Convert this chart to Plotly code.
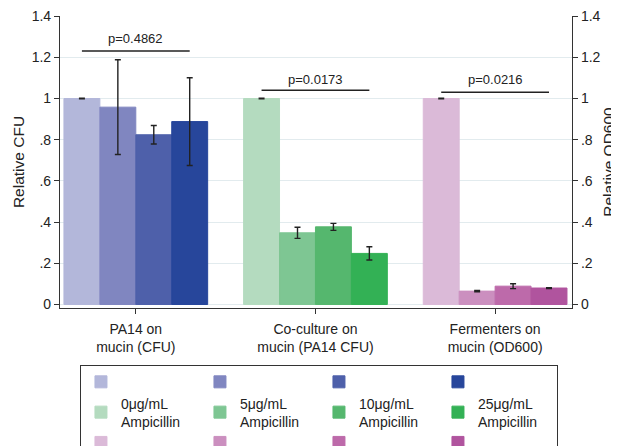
import plotly.graph_objects as go

categories = ["PA14 on<br>mucin (CFU)", "Co-culture on<br>mucin (PA14 CFU)", "Fermenters on<br>mucin (OD600)"]
doses = ["0μg/mL<br>Ampicillin", "5μg/mL<br>Ampicillin", "10μg/mL<br>Ampicillin", "25μg/mL<br>Ampicillin"]

pa14_values = [1.0, 0.958, 0.824, 0.888]
pa14_errors = [0.002, 0.23, 0.045, 0.213]
coculture_values = [1.0, 0.348, 0.377, 0.248]
coculture_errors = [0.002, 0.027, 0.017, 0.032]
fermenter_values = [1.0, 0.065, 0.089, 0.080]
fermenter_errors = [0.002, 0.003, 0.012, 0.002]

p_values = ["p=0.4862", "p=0.0173", "p=0.0216"]
bracket_y = [1.23, 1.04, 1.03]
p_label_y = [1.293, 1.093, 1.093]

y_tickvals = [0, 0.2, 0.4, 0.6, 0.8, 1.0, 1.2, 1.4]
y_ticktext = ["0", ".2", ".4", ".6", ".8", "1", "1.2", "1.4"]

blue = ["#b3b7da", "#8086c0", "#4e60aa", "#27469b"]
green = ["#b4dbbf", "#7ec693", "#55b76e", "#33b155"]
pink = ["#dbbad8", "#cb8fbf", "#bd6aaa", "#b0549e"]

values = [pa14_values, coculture_values, fermenter_values]
errors = [pa14_errors, coculture_errors, fermenter_errors]
palettes = [blue, green, pink]

FONT = "Liberation Sans, Arial, sans-serif"
# the page body has an 8px default margin; margins below compensate for it
PAGE_OFFSET = 8

fig = go.Figure()

for g in range(3):
    for i in range(4):
        fig.add_trace(go.Bar(
            x=[categories[g]],
            y=[values[g][i]],
            error_y=dict(type="data", array=[errors[g][i]], color="#222222",
                         thickness=1.4, width=3),
            offsetgroup=str(i),
            marker=dict(color=palettes[g][i], line=dict(color=palettes[g][i], width=1)),
            name=doses[i] if g == 1 else " ",
            yaxis="y2" if g == 2 else "y",
            showlegend=True,
        ))

shapes = []
annotations = []
for g in range(3):
    shapes.append(dict(type="line", xref="x", yref="y", x0=g - 0.3, x1=g + 0.3,
                       y0=bracket_y[g], y1=bracket_y[g], line=dict(color="#222222", width=1.5)))
    annotations.append(dict(x=g, y=p_label_y[g], xref="x", yref="y", text=p_values[g],
                            showarrow=False, font=dict(size=13, color="#222222", family=FONT)))

axis_common = dict(
    range=[-0.017, 1.4005],
    tickvals=y_tickvals, ticktext=y_ticktext,
    ticks="outside", ticklen=5, tickcolor="#333333", tickwidth=1.2,
    showline=True, linecolor="#333333", linewidth=1.2,
    zeroline=False,
    tickfont=dict(size=14, color="#222222", family=FONT),
)

fig.update_layout(
    width=619, height=446,
    margin=dict(l=60 - PAGE_OFFSET, r=47 + PAGE_OFFSET, t=16 - PAGE_OFFSET,
                b=138 + PAGE_OFFSET, autoexpand=False),
    plot_bgcolor="white", paper_bgcolor="white",
    barmode="group", bargap=0.2, bargroupgap=0,
    font=dict(family=FONT, color="#222222"),
    xaxis=dict(
        type="category", categoryorder="array", categoryarray=categories,
        range=[-0.422, 2.428],
        ticks="outside", ticklen=5, tickcolor="#333333", tickwidth=1.2,
        showline=True, linecolor="#333333", linewidth=1.2,
        showgrid=False, ticklabelstandoff=3,
        tickfont=dict(size=14, color="#222222", family=FONT),
    ),
    yaxis=dict(
        **axis_common,
        showgrid=True, gridcolor="#e2ebee", gridwidth=1.4,
        title=dict(text="Relative CFU", font=dict(size=15.5, color="#222222", family=FONT), standoff=3),
    ),
    yaxis2=dict(
        **axis_common,
        overlaying="y", side="right", showgrid=False,
        title=dict(text="Relative OD600", font=dict(size=15.5, color="#222222", family=FONT), standoff=3),
    ),
    shapes=shapes,
    annotations=annotations,
    legend=dict(
        orientation="h", x=0.039, xanchor="left", y=-0.196, yanchor="top",
        bordercolor="#333333", borderwidth=1, bgcolor="white",
        font=dict(size=14, color="#222222", family=FONT),
        entrywidth=74, traceorder="normal", valign="middle",
    ),
)

fig.write_html("out.html")
